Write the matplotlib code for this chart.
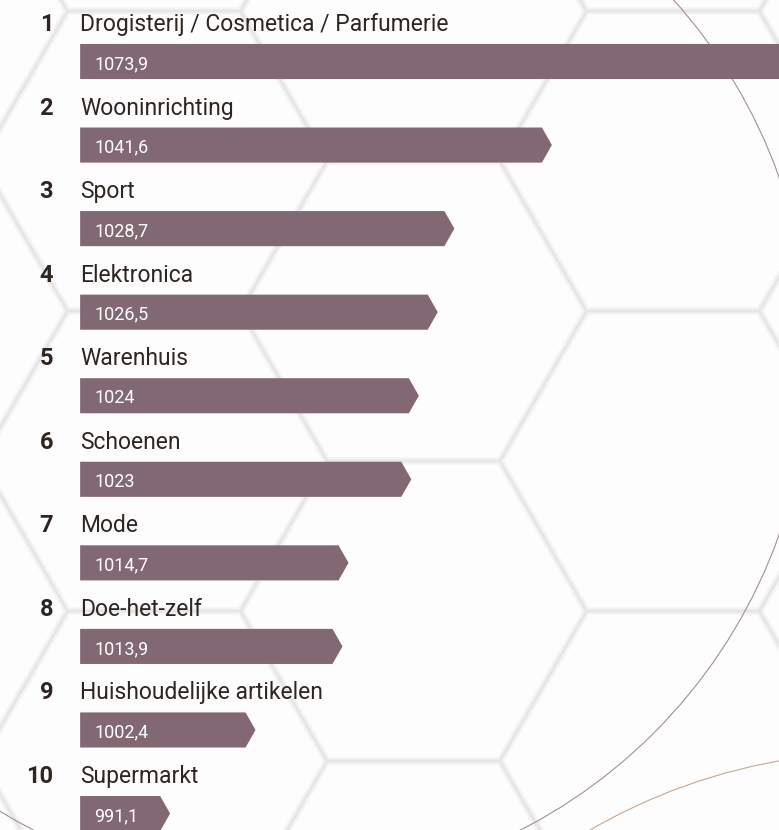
import numpy as np
import matplotlib.pyplot as plt
from matplotlib.patches import Polygon, Circle

plt.rcParams['font.family'] = ['Roboto', 'DejaVu Sans']

ranks = ['1', '2', '3', '4', '5', '6', '7', '8', '9', '10']
categories = ['Drogisterij / Cosmetica / Parfumerie', 'Wooninrichting', 'Sport',
              'Elektronica', 'Warenhuis', 'Schoenen', 'Mode', 'Doe-het-zelf',
              'Huishoudelijke artikelen', 'Supermarkt']
values = [1073.9, 1041.6, 1028.7, 1026.5, 1024, 1023, 1014.7, 1013.9, 1002.4, 991.1]
value_labels = ['1073,9', '1041,6', '1028,7', '1026,5', '1024', '1023',
                '1014,7', '1013,9', '1002,4', '991,1']

BAR = '#816873'
TEXT = '#2e2521'
base = 979.2          # where every bar starts
tip = 1.32            # depth of the arrow point, in value units
bar_h = 0.42

W, H = 779, 830
fig = plt.figure(figsize=(W / 100, H / 100), dpi=100)
fig.patch.set_facecolor('#fbfbfb')

# honeycomb background, drawn in pixel units
bg = fig.add_axes([0, 0, 1, 1])
bg.set_xlim(0, W)
bg.set_ylim(H, 0)
bg.axis('off')
s = 173.0
ang = np.deg2rad(np.arange(0, 361, 60))
for k in range(-3, 3):
    cx = 673 + 1.5 * s * k
    for m in range(-2, 3):
        cy = 461 + 300 * m + (150 if k % 2 else 0)
        hx = cx + s * np.cos(ang)
        hy = cy + s * np.sin(ang)
        bg.fill(hx, hy, color='#fdfdfd', zorder=0)
        bg.plot(hx, hy, color='#f3f3f3', lw=5, solid_joinstyle='round', zorder=1)
        bg.plot(hx, hy, color='#e6e6e6', lw=1.8, solid_joinstyle='round', zorder=2)
bg.add_patch(Circle((277, 356), 533, fill=False, ec='#a48e96', lw=0.8, zorder=3))
bg.add_patch(Circle((880, 1330), 578, fill=False, ec='#c9a78d', lw=0.8, zorder=3))

# the ranking itself
ax = fig.add_axes([0, 0, 1, 1])
ax.patch.set_alpha(0)
ax.set_xlim(968.6, 968.6 + W / 7.56)
ax.set_ylim(9.197, -0.736)
ax.axis('off')

for i, (v, lab, cat, r) in enumerate(zip(values, value_labels, categories, ranks)):
    pts = [(base, i - bar_h / 2), (v - tip, i - bar_h / 2), (v, i),
           (v - tip, i + bar_h / 2), (base, i + bar_h / 2)]
    ax.add_patch(Polygon(pts, closed=True, fc=BAR, ec='none'))
    ax.annotate(lab, (base, i), xytext=(10, -5.4), textcoords='offset points',
                color='white', fontsize=13, va='baseline', ha='left')
    ax.annotate(cat, (base, i), xytext=(0, 22), textcoords='offset points',
                color=TEXT, fontsize=16.5, va='baseline', ha='left')
    ax.annotate(r, (base, i), xytext=(-19.4, 22), textcoords='offset points',
                color=TEXT, fontsize=17, fontweight='bold', va='baseline', ha='right')

fig.savefig('out.png', dpi=100, facecolor=fig.get_facecolor())
